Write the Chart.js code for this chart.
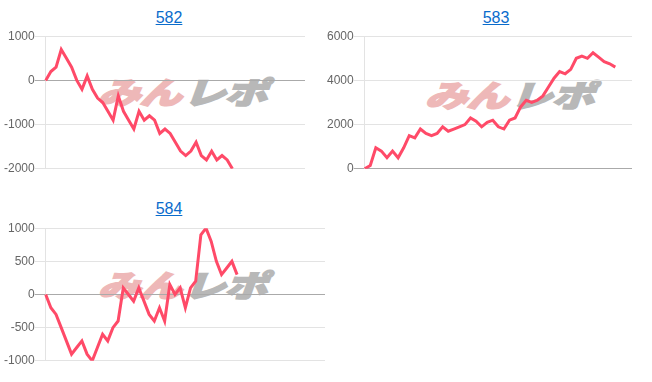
<!DOCTYPE html>
<html>
<head>
<meta charset="utf-8">
<script src="https://cdn.jsdelivr.net/npm/chart.js@4.4.1/dist/chart.umd.min.js"></script>
<style>
    body { margin: 0; background: #fff; font-family: 'Liberation Sans', Arial, sans-serif; }
    .box { position: absolute; }
    .title { position: absolute; text-align: center; font-size: 16px; }
    .title a { color: #0a6ccc; text-decoration: underline; }
    .mark { position: absolute; font-family: 'Noto Sans CJK JP', sans-serif; font-weight: 900; font-size: 38px;
            line-height: 38px; white-space: nowrap; transform-origin: 0 0; transform: skewX(-20deg) scale(1.12, 0.8);
            letter-spacing: -1px; }
    .mark .a { color: rgb(238, 184, 184); -webkit-text-stroke: 2px rgb(238, 184, 184); }
    .mark .b { color: rgb(184, 184, 184); -webkit-text-stroke: 2px rgb(184, 184, 184); margin-left: 2px; }
    canvas { position: absolute; }
</style>
</head>
<body>
<div class="title" style="left:119px; top:9px; width:100px;"><a href="#">582</a></div>
<div class="title" style="left:446px; top:9px; width:100px;"><a href="#">583</a></div>
<div class="title" style="left:119px; top:200px; width:100px;"><a href="#">584</a></div>

<div class="mark" style="left:108px; top:76px;"><span class="a">みん</span><span class="b">レポ</span></div>
<div class="mark" style="left:435px; top:79px;"><span class="a">みん</span><span class="b">レポ</span></div>
<div class="mark" style="left:108px; top:269px;"><span class="a">みん</span><span class="b">レポ</span></div>

<div class="box" style="left:4px; top:29px; width:301px; height:147px;"><canvas id="chart582"></canvas></div>
<div class="box" style="left:327px; top:29px; width:305px; height:147px;"><canvas id="chart583"></canvas></div>
<div class="box" style="left:4px; top:221px; width:321px; height:147px;"><canvas id="chart584"></canvas></div>

<script>
// series values
const values582 = [0, 200, 300, 700, 500, 300, 0, -200, 100, -200, -400, -500, -700, -900, -350,
    -700, -900, -1100, -700, -900, -800, -900, -1200, -1100, -1200, -1400, -1600, -1700, -1600,
    -1400, -1700, -1800, -1600, -1800, -1700, -1800, -2000];
const values583 = [0, 150, 950, 800, 500, 800, 500, 950, 1500, 1400, 1800, 1600, 1500, 1600, 1900,
    1700, 1800, 1900, 2000, 2300, 2150, 1900, 2100, 2200, 1900, 1800, 2200, 2300, 2800, 3100,
    3000, 3100, 3300, 3700, 4100, 4400, 4300, 4500, 5000, 5100, 5000, 5250, 5050, 4850, 4750, 4600];
const values584 = [0, -200, -300, -500, -700, -900, -800, -700, -900, -1000, -800, -600, -700, -500,
    -400, 100, 0, -100, 100, -100, -300, -400, -200, -400, 150, 0, 100, -200, 100, 200, 900, 1000,
    800, 500, 300, 400, 500, 300];

// number of slots on the (hidden) x axis of each chart
const slots582 = 51;
const slots583 = 49;
const slots584 = 55;

// y axis tick ranges
const yRange582 = { min: -2000, max: 1000, step: 1000 };
const yRange583 = { min: 0, max: 6000, step: 2000 };
const yRange584 = { min: -1000, max: 1000, step: 500 };

const lineColor = 'rgb(255, 74, 104)';

function makeLabels(n) {
    return Array.from({ length: n }, (_, i) => String(i + 1));
}

function drawChart(canvasId, values, slots, yRange) {
    const ctx = document.getElementById(canvasId).getContext('2d');
    return new Chart(ctx, {
        type: 'line',
        data: {
            labels: makeLabels(slots),
            datasets: [{
                data: values,
                borderColor: lineColor,
                backgroundColor: lineColor,
                borderWidth: 3,
                pointRadius: 0,
                tension: 0,
                fill: false
            }]
        },
        options: {
            responsive: true,
            maintainAspectRatio: false,
            animation: false,
            layout: { padding: 0 },
            plugins: { legend: { display: false }, tooltip: { enabled: false } },
            scales: {
                x: { display: false, offset: false },
                y: {
                    min: yRange.min,
                    max: yRange.max,
                    ticks: {
                        stepSize: yRange.step,
                        padding: 0,
                        color: '#666',
                        font: { family: "'Liberation Sans', Arial", size: 12 },
                        callback: v => String(v)
                    },
                    grid: {
                        color: c => (c.tick && c.tick.value === 0) ? '#aaa' : '#e3e3e3',
                        drawTicks: true,
                        tickLength: 11
                    },
                    border: { color: '#e3e3e3' }
                }
            }
        }
    });
}

drawChart('chart582', values582, slots582, yRange582);
drawChart('chart583', values583, slots583, yRange583);
drawChart('chart584', values584, slots584, yRange584);
</script>
</body>
</html>
